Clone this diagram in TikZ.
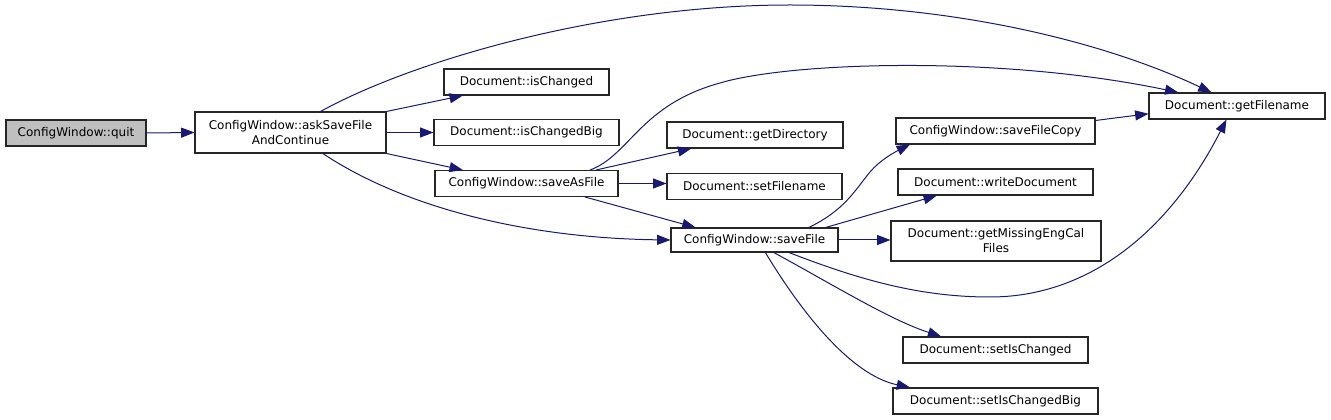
\documentclass[tikz,border=0pt]{standalone}
\usepackage{fontspec}
\setmainfont{DejaVu Sans}
\usepackage{tikz}
\usetikzlibrary{arrows.meta}
\definecolor{edgeBlue}{RGB}{25,25,112}

\begin{document}
\begin{tikzpicture}[x=0.75pt, y=-0.75pt, style={line cap=round},
	fn/.style={draw=black!85, line width=0.8pt, fill=white, inner sep=0pt, minimum height=19.5pt, align=center, font=\fontsize{9}{11.25}\selectfont},
	root/.style={fn, fill=black!25},
	call/.style={draw=edgeBlue, line width=0.75pt, -{Triangle[length=10pt, width=7.5pt]}}]
	\useasboundingbox (0,0) rectangle (1331,420);
	% functions
	\node[root, minimum width=105pt] (quit) at (76,133) {ConfigWindow::quit};
	\node[fn, minimum width=143.25pt, minimum height=30.75pt] (ask) at (290.5,132.5) {ConfigWindow::askSaveFile\\AndContinue};
	\node[fn, minimum width=123.75pt] (isch) at (526.5,82) {Document::isChanged};
	\node[fn, minimum width=138.75pt] (ischbig) at (526.5,132.5) {Document::isChangedBig};
	\node[fn, minimum width=137.25pt] (saveas) at (526.5,183.5) {ConfigWindow::saveAsFile};
	\node[fn, minimum width=132pt] (getdir) at (755,135) {Document::getDirectory};
	\node[fn, minimum width=131.25pt] (setfn) at (754.5,186.5) {Document::setFilename};
	\node[fn, minimum width=125.25pt, minimum height=18pt] (save) at (754.5,240) {ConfigWindow::saveFile};
	\node[fn, minimum width=132pt] (getfn) at (1237,106) {Document::getFilename};
	\node[fn, minimum width=149.25pt] (savecopy) at (995.5,131) {ConfigWindow::saveFileCopy};
	\node[fn, minimum width=146.25pt] (writedoc) at (995.5,182) {Document::writeDocument};
	\node[fn, minimum width=157.5pt, minimum height=30pt] (missing) at (996,241) {Document::getMissingEngCal\\Files};
	\node[fn, minimum width=138.75pt] (setisch) at (995.5,350) {Document::setIsChanged};
	\node[fn, minimum width=153.75pt] (setischbig) at (995.5,401) {Document::setIsChangedBig};
	% calls
	\draw[call] (quit.east) -- (ask.west);
	\draw[call] (ask.35) .. controls (410,62) and (600,5) .. (790,5) .. controls (950,5) and (1100,40) .. (getfn.152);
	\draw[call] (ask.north east) -- (isch.192);
	\draw[call] (ask.east) -- (ischbig.west);
	\draw[call] (ask.south east) -- (saveas.168);
	\draw[call] (ask.-33) .. controls (400,205) and (520,238) .. (save.west);
	\draw[call] (saveas.12) .. controls (630,155) and (640,105) .. (720,83) .. controls (790,62) and (1000,55) .. (getfn.167);
	\draw[call] (saveas.11) -- (getdir.192);
	\draw[call] (saveas.east) -- (saveas.east -| setfn.west);
	\draw[call] (saveas.-13) -- (save.168);
	\draw[call] (save.13) .. controls (845,210) and (855,190) .. (870,172) .. controls (880,160) and (895,152) .. (savecopy.189);
	\draw[call] (save.10) -- (writedoc.193);
	\draw[call] (save.east) -- (save.east -| missing.west);
	\draw[call] (save.-20) .. controls (860,280) and (920,297) .. (990,297) .. controls (1090,297) and (1170,230) .. (getfn.232);
	\draw[call] (save.-33) .. controls (830,283) and (890,320) .. (setisch.166);
	\draw[call] (save.-49) .. controls (800,310) and (850,375) .. (setischbig.171);
	\draw[call] (savecopy.6) -- (getfn.185);
\end{tikzpicture}
\end{document}
